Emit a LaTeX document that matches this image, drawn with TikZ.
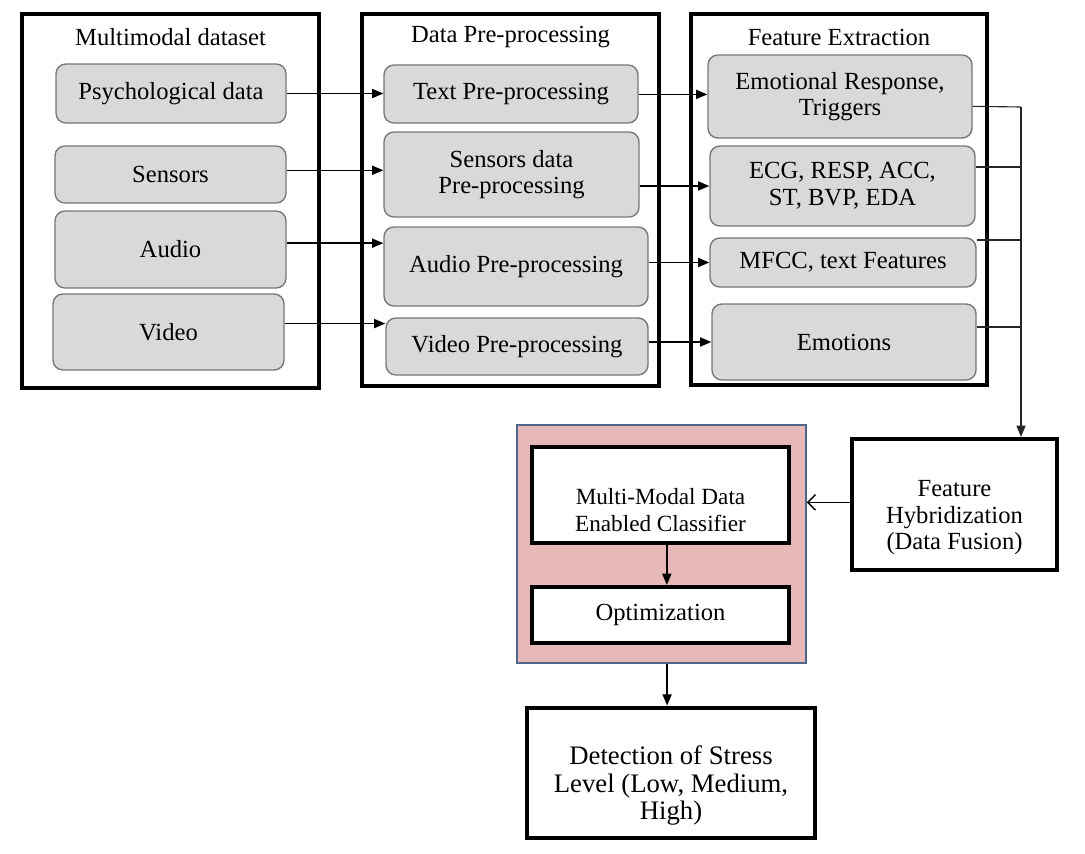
\documentclass[tikz,border=0pt]{standalone}
\usepackage{fontspec}
\setmainfont{Liberation Serif}
\usetikzlibrary{arrows.meta,calc}
\definecolor{boxgray}{RGB}{217,217,217}
\definecolor{boxedge}{RGB}{120,120,120}
\definecolor{pinkfill}{RGB}{230,185,184}
\definecolor{pinkedge}{RGB}{80,100,140}
\tikzset{
  wh/.style 2 args={minimum width=#1*0.025cm, minimum height=#2*0.025cm},
  every node/.style={font=\fontsize{17.5}{19}\selectfont, align=center, inner sep=0pt},
  group/.style={draw=black, line width=3pt},
  rbox/.style={draw=boxedge, fill=boxgray, line width=1pt, rounded corners=7pt},
  wbox/.style={draw=black, fill=white, line width=3pt},
  pinkbox/.style={draw=pinkedge, fill=pinkfill, line width=1pt},
  arr/.style={line width=1pt, -{Triangle[length=8pt,width=6.5pt]}},
  openarr/.style={line width=1pt, -{Straight Barb[length=5.5pt,width=11pt,line width=1pt]}},
  busline/.style={line width=0.8pt, draw=black!85}
}
\begin{document}
\begin{tikzpicture}[x=0.025cm,y=-0.025cm]
\useasboundingbox (0,0) rectangle (1085,854);
% group boxes
\node[group, wh={297}{374}] (g1) at (170.5,201) {};
\node[group, wh={297}{372}] (g2) at (510.5,200) {};
\node[group, wh={296}{371}] (g3) at (839,199.5) {};
\node (t1) at (170.5,37) {Multimodal dataset};
\node (t2) at (510.5,37) {Data Pre-processing};
\node (t3) at (839,37) {Feature Extraction};
% column 1
\node[rbox, wh={230}{59}] (psy) at (171,93.5) {Psychological data};
\node[rbox, wh={231}{57}] (sen) at (170.5,174.5) {Sensors};
\node[rbox, wh={231}{77}] (aud) at (170.5,249.5) {Audio};
\node[rbox, wh={231}{76}] (vid) at (168.5,332) {Video};
% column 2
\node[rbox, wh={254}{58}] (tpre) at (511,94) {Text Pre-processing};
\node[rbox, wh={255}{85}] (spre) at (511.5,174.5) {Sensors data\\Pre-processing};
\node[rbox, wh={264}{79}] (apre) at (516,266.5) {Audio Pre-processing};
\node[rbox, wh={262}{57}] (vpre) at (517,346.5) {Video Pre-processing};
% column 3
\node[rbox, wh={264}{83}] (emr) at (840,96.5) {Emotional Response,\\Triggers};
\node[rbox, wh={265}{80}] (ecg) at (842.5,186) {ECG, RESP, ACC,\\ST, BVP, EDA};
\node[rbox, wh={266}{49}] (mfcc) at (843,262.5) {MFCC, text Features};
\node[rbox, wh={264}{76}] (emo) at (844,342) {Emotions};
% lower part
\node[pinkbox, wh={289}{238}] (pink) at (661.5,544) {};
\node[wbox, wh={257}{96}] (cls) at (660.5,495) {};
\node[font=\fontsize{16.5}{19}\selectfont] (clstext) at ([yshift=-10.7pt]cls.center) {Multi-Modal Data\\Enabled Classifier};
\node[wbox, wh={257}{56}] (opt) at (660.5,615) {Optimization};
\node[wbox, wh={205}{131}] (fh) at (954.5,504.5) {};
\node (fhtext) at ([yshift=-9.3pt]fh.center) {Feature\\Hybridization\\(Data Fusion)};
\node[wbox, line width=3.5pt, wh={288}{130}] (det) at (671,773) {};
\node[font=\fontsize{19}{19.5}\selectfont] (dettext) at ([yshift=-8.9pt]det.center) {Detection of Stress\\Level (Low, Medium,\\High)};
% arrows column 1 -> 2
\draw[arr] (psy.east) -- (psy.east -| tpre.west);
\draw[arr] ([yshift=3pt]sen.east) -- ([yshift=3pt]sen.east -| spre.west);
\draw[arr] ([yshift=4.5pt]aud.east) -- ([yshift=4.5pt]aud.east -| apre.west);
\draw[arr] ([yshift=6pt]vid.east) -- ([yshift=6pt]vid.east -| vpre.west);
% arrows column 2 -> 3
\draw[arr] ([yshift=1.5pt]emr.west -| tpre.east) -- ([yshift=1.5pt]emr.west);
\draw[arr] (ecg.west -| spre.east) -- (ecg.west);
\draw[arr] (mfcc.west -| apre.east) -- (mfcc.west);
\draw[arr] (emo.west -| vpre.east) -- (emo.west);
% bus to feature hybridization
\coordinate (bus) at (1021,107);
\draw[busline] ([yshift=-7pt]emr.east) -- (bus);
\draw[busline] ([yshift=13.5pt]ecg.east) -- ([yshift=13.5pt]ecg.east -| bus);
\draw[busline] ([yshift=16pt]mfcc.east) -- ([yshift=16pt]mfcc.east -| bus);
\draw[busline] ([yshift=10.7pt]emo.east) -- ([yshift=10.7pt]emo.east -| bus);
\draw[busline, -{Triangle[length=8pt,width=6.5pt]}] (bus) -- (bus |- fh.north);
% lower arrows
\draw[openarr] ([yshift=1.5pt]fh.west) -- ([yshift=1.5pt]fh.west -| pink.east);
\draw[arr] ([xshift=4.5pt]cls.south) -- ([xshift=4.5pt]cls.south |- opt.north);
\draw[arr] ([xshift=4pt]pink.south) -- ([xshift=4pt]pink.south |- det.north);
\end{tikzpicture}
\end{document}
